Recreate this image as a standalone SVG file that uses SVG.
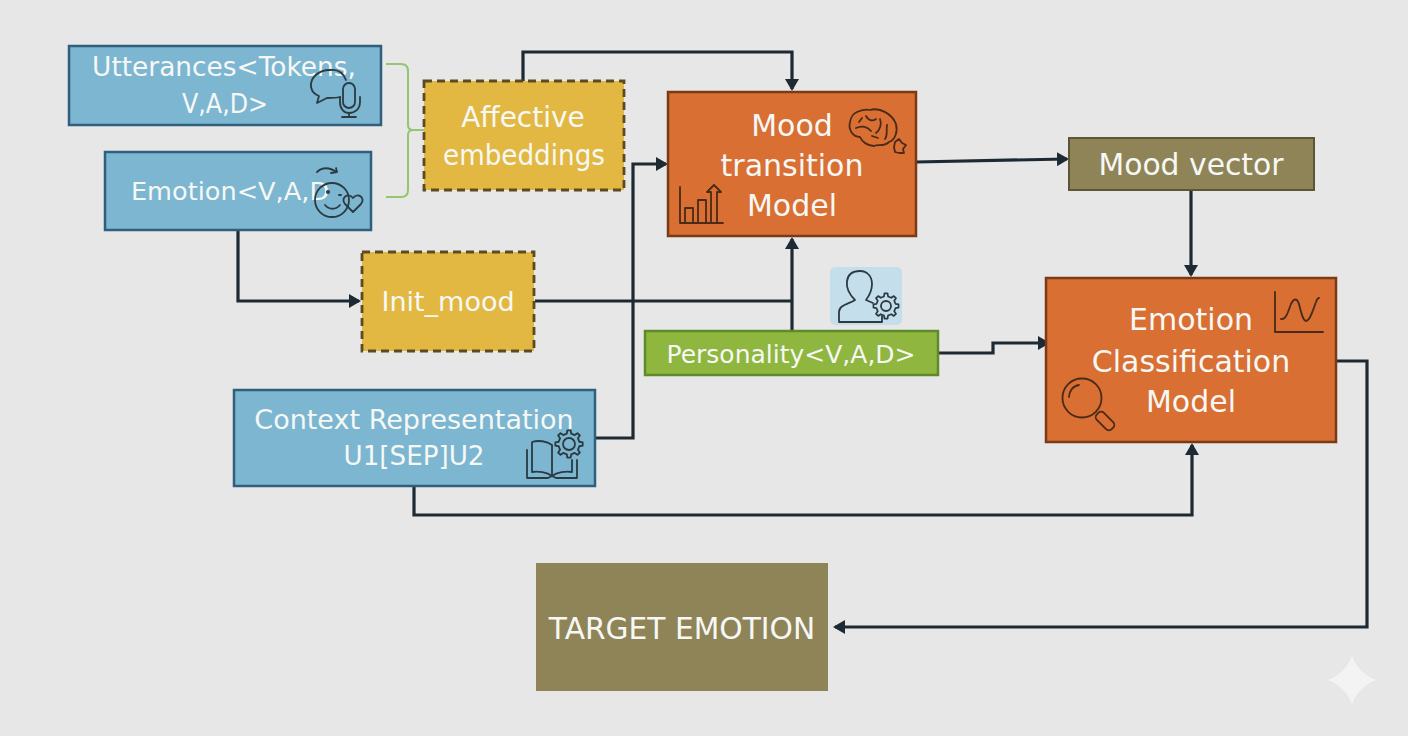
<svg xmlns="http://www.w3.org/2000/svg" width="1408" height="736" viewBox="0 0 1408 736">
<style>
.t{font-family:"DejaVu Sans","Liberation Sans",sans-serif;fill:#f6f8f5;text-anchor:middle}
.b{fill:#7db6d1;stroke:#2f5f7c;stroke-width:2.5}
.y{fill:#e2b842;stroke:#5c4a22;stroke-width:2.8;stroke-dasharray:8 5}
.o{fill:#d96f33;stroke:#7a3a18;stroke-width:2.5}
.k{fill:#8f8458;stroke:#5d5636;stroke-width:2}
.c{fill:none;stroke:#1e2a33;stroke-width:3.2}
.g{fill:none;stroke:#93c76f;stroke-width:2}
.i{fill:none;stroke:#2c3a42;stroke-width:1.8;stroke-linecap:round;stroke-linejoin:round}
.n{fill:none;stroke:#4a2a18;stroke-width:1.8;stroke-linecap:round;stroke-linejoin:round}
</style>
<defs>
<marker id="a" markerUnits="userSpaceOnUse" markerWidth="13" markerHeight="14" refX="10" refY="7" orient="auto"><path d="M0 0L12 7L0 14z" fill="#1e2a33"/></marker>
<path id="gear" d="M8.31-1.77L10.92-1.34V1.34L8.31 1.77L7.13 4.63L8.67 6.77L6.77 8.67L4.63 7.13L1.77 8.31L1.34 10.92H-1.34L-1.77 8.31L-4.63 7.13L-6.77 8.67L-8.67 6.77L-7.13 4.63L-8.31 1.77L-10.92 1.34V-1.34L-8.31-1.77L-7.13-4.63L-8.67-6.77L-6.77-8.67L-4.63-7.13L-1.77-8.31L-1.34-10.92H1.34L1.77-8.31L4.63-7.13L6.77-8.67L8.67-6.77L7.13-4.63Z"/>
</defs>
<rect width="1408" height="736" fill="#e7e7e7"/>
<path d="M1352 656C1356 667 1365 676 1376 680C1365 684 1356 693 1352 704C1348 693 1339 684 1328 680C1339 676 1348 667 1352 656Z" fill="#f3f3f3"/>
<g id="connectors">
<path class="g" d="M386 64H401Q408 64 408 71V125Q408 130 413 130H424M386 197H401Q408 197 408 190V135Q408 130 413 130"/>
<path class="c" marker-end="url(#a)" d="M523 81V52H792V89"/>
<path class="c" marker-end="url(#a)" d="M238 231V301H359"/>
<path class="c" d="M535 301H792"/>
<path class="c" marker-end="url(#a)" d="M792 331V239"/>
<path class="c" marker-end="url(#a)" d="M596 438H633V164H666"/>
<path class="c" marker-end="url(#a)" d="M916 162L1067 159"/>
<path class="c" marker-end="url(#a)" d="M1191 190V275"/>
<path class="c" marker-end="url(#a)" d="M939 353H993V343H1048"/>
<path class="c" marker-end="url(#a)" d="M414 487V515H1192V445"/>
<path class="c" marker-end="url(#a)" d="M1336 361H1367V627H835"/>
</g>
<g id="utterances">
<rect class="b" x="69" y="46" width="312" height="79"/>
<text class="t" font-size="26.400" x="224" y="76">Utterances&lt;Tokens,</text>
<text class="t" font-size="26.400" x="225" y="113" textLength="86" lengthAdjust="spacingAndGlyphs">V,A,D&gt;</text>
<g class="i"><path d="M330 70C317 70 310 79 311 87C312 92 316 95 319 96L317 103L327 98C331 98 336 98 340 97"/><path d="M330 70C337 69 343 72 346 80"/><rect x="343" y="83" width="12" height="25" rx="6"/><path d="M340 97V102C340 109 344 113 349 113C355 113 360 109 360 102V97M349 113V117M342 117H356"/></g>
</g>
<g id="emotion">
<rect class="b" x="105" y="152" width="266" height="78"/>
<text class="t" font-size="25.600" x="230" y="200">Emotion&lt;V,A,D</text>
<g class="i"><path d="M317 172C322 167 330 167 336 172M331 173L337 172L336 168"/><circle cx="332" cy="200" r="17"/><circle cx="328" cy="192" r="1.200"/><path d="M339 195H341M325 205C329 210 336 210 340 205"/><path d="M353 212L345 204C340 198 348 192 353 198C358 192 366 198 361 204Z"/></g>
</g>
<g id="affective">
<rect class="y" x="424" y="81" width="200" height="109"/>
<text class="t" font-size="28" x="523" y="127">Affective</text>
<text class="t" font-size="28" x="524" y="165" textLength="162" lengthAdjust="spacingAndGlyphs">embeddings</text>
</g>
<g id="init-mood">
<rect class="y" x="362" y="252" width="172" height="99"/>
<text class="t" font-size="27" x="448" y="311">Init_mood</text>
</g>
<g id="context">
<rect class="b" x="234" y="390" width="361" height="96"/>
<text class="t" font-size="27" x="414" y="429">Context Representation</text>
<text class="t" font-size="27" x="414" y="465" textLength="141" lengthAdjust="spacingAndGlyphs">U1[SEP]U2</text>
<g class="i"><path d="M552 476V445C547 441 538 440 532 442V472C538 471 547 472 552 476ZM552 476C557 472 566 471 572 472V460M527 450V478H548L552 476L556 478H577V460"/><circle cx="569" cy="444" r="6"/><use href="#gear" transform="translate(569 444) scale(1.250)" stroke-width="1.500"/></g>
</g>
<g id="mood-transition">
<rect class="o" x="668" y="92" width="248" height="144"/>
<text class="t" font-size="30" x="792" y="136">Mood</text>
<text class="t" font-size="30" x="792" y="176">transition</text>
<text class="t" font-size="30" x="792" y="216">Model</text>
<g class="n"><path d="M857 112C862 110 866 109 870 110C880 107 892 114 896 124C898 132 895 140 889 142C884 147 878 144 874 146C868 146 862 142 860 137C853 137 848 130 850 122C851 116 853 114 857 112Z"/><path d="M856 128C862 125 868 127 871 131M866 116C868 120 872 122 876 119M880 119C882 124 880 130 876 133M887 125C886 131 888 135 885 139M862 118L859 122M872 136L878 138"/><path d="M895 142L899 139L902 143L906 145L903 149L904 153L899 153L895 152L894 147Z"/><path d="M680 187V223H723M685 222V208H693V222M698 222V200H706V222M711 222V192H707L714 185L721 192H717V222"/></g>
</g>
<g id="mood-vector">
<rect class="k" x="1069" y="138" width="245" height="52"/>
<text class="t" font-size="29.800" x="1191" y="175">Mood vector</text>
</g>
<g id="personality-icon">
<rect x="830" y="267" width="72" height="58" rx="5" fill="#c4dfeb"/>
<g class="i"><path d="M839 322V312C839 305 849 304 855 300C849 294 846 288 847 281C848 274 853 271 860 271C867 271 872 276 872 284C872 291 869 296 866 300L873 303M839 322H882V316"/><circle cx="886" cy="306" r="5"/><use href="#gear" transform="translate(886 306) scale(1.150)" stroke-width="1.500"/></g>
</g>
<g id="personality">
<rect x="645" y="331" width="293" height="44" fill="#8fb63f" stroke="#5f8a2c" stroke-width="2.5"/>
<text class="t" font-size="25" x="791" y="363">Personality&lt;V,A,D&gt;</text>
</g>
<g id="emotion-classification">
<rect class="o" x="1046" y="278" width="290" height="164"/>
<text class="t" font-size="30" x="1191" y="330">Emotion</text>
<text class="t" font-size="30" x="1191" y="372">Classification</text>
<text class="t" font-size="30" x="1191" y="412">Model</text>
<g class="n"><path d="M1275 292V332H1323M1281 319C1286 320 1288 312 1291 304C1294 298 1297 298 1299 304C1301 312 1303 321 1306 321C1310 321 1313 310 1316 302C1317 299 1318 298 1319 298"/><circle cx="1082" cy="398" r="19.500"/><path d="M1069 397C1069 391 1073 386 1079 385"/><rect x="-5" y="-10.500" width="10" height="21" rx="4" transform="translate(1105 421) rotate(-45)"/></g>
</g>
<g id="target-emotion">
<rect x="536" y="563" width="292" height="128" fill="#8f8458"/>
<text class="t" font-size="29.700" x="682" y="639">TARGET EMOTION</text>
</g>
</svg>
